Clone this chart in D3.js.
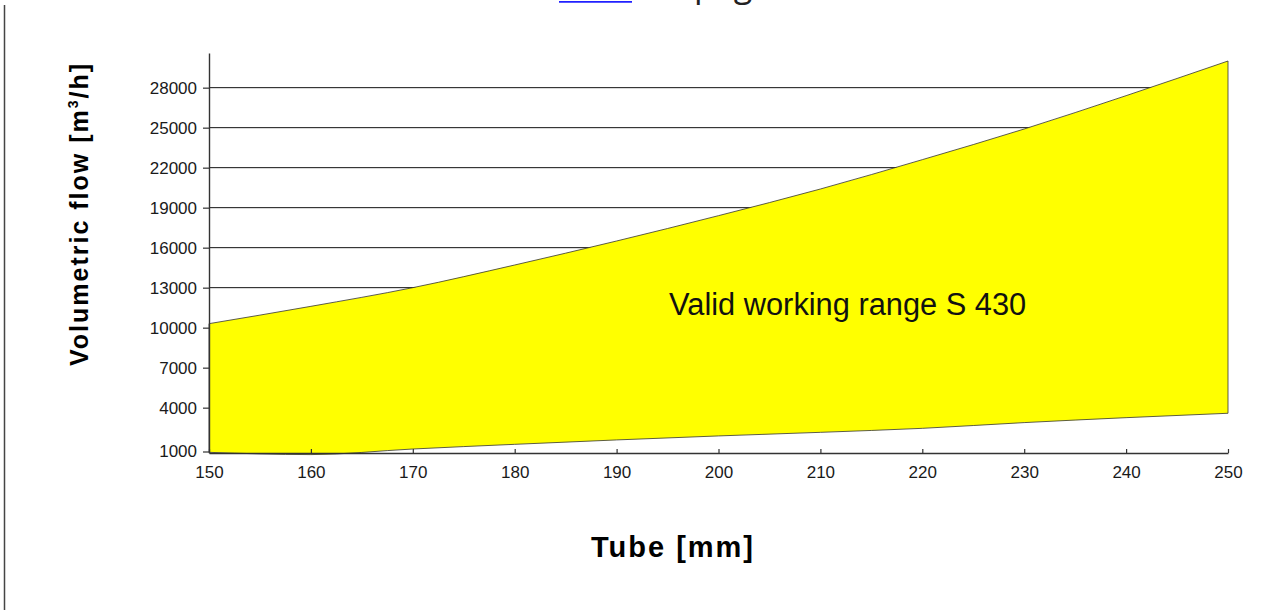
<!DOCTYPE html>
<html>
<head>
<meta charset="utf-8">
<script src="https://cdn.jsdelivr.net/npm/d3@7"></script>
<style>
  body { margin: 0; background: #fff; }
  svg { display: block; font-family: "Liberation Sans", Arial, sans-serif; }
</style>
</head>
<body>
<div id="chart"></div>
<script>
// working range of the S 430
var tubes   = [150, 160, 170, 180, 190, 200, 210, 220, 230, 240, 250];
var maxFlow = [10300, 11600, 13000, 14700, 16500, 18400, 20400, 22600, 24900, 27400, 30000];
var minFlow = [650, 480, 900, 1250, 1580, 1880, 2150, 2450, 2880, 3250, 3580];

var xTicks = [150, 160, 170, 180, 190, 200, 210, 220, 230, 240, 250];
var yTicks = [1000, 4000, 7000, 10000, 13000, 16000, 19000, 22000, 25000, 28000];

var width = 1273;
var height = 610;
var margin = { top: 53, right: 45, bottom: 157, left: 209 };

var svg = d3.select('#chart').append('svg')
    .attr('width', width)
    .attr('height', height);

// page frame on the left
svg.append('line')
    .attr('x1', 4.5).attr('x2', 4.5)
    .attr('y1', 5).attr('y2', height)
    .attr('stroke', '#444').attr('stroke-width', 1.5);

// bits of the page text cut off at the top
svg.append('text')
    .attr('x', 559).attr('y', -3.5)
    .attr('fill', '#2020ff')
    .style('font-family', '"Open Sans", sans-serif')
    .style('font-size', '34px')
    .text('Back');
svg.append('line')
    .attr('x1', 559).attr('x2', 632)
    .attr('y1', 1.8).attr('y2', 1.8)
    .attr('stroke', '#2020ff').attr('stroke-width', 1.8);
svg.append('text')
    .attr('x', 694).attr('y', -3.5)
    .attr('fill', '#222')
    .style('font-family', '"Open Sans", sans-serif')
    .style('font-size', '34px')
    .text('page');

var x = d3.scaleLinear()
    .domain([150, 250])
    .range([margin.left, width - margin.right]);

var y = d3.scaleLinear()
    .domain([600, 30600])
    .range([height - margin.bottom, margin.top]);

var data = tubes.map(function (t, i) {
    return { tube: t, lo: minFlow[i], hi: maxFlow[i] };
});

// gridlines (hidden behind the yellow area where they cross it)
svg.append('g')
    .selectAll('line')
    .data(yTicks.slice(1))
    .enter().append('line')
    .attr('x1', x(150)).attr('x2', x(250))
    .attr('y1', function (d) { return y(d); })
    .attr('y2', function (d) { return y(d); })
    .attr('stroke', '#111').attr('stroke-width', 1);

var area = d3.area()
    .x(function (d) { return x(d.tube); })
    .y0(function (d) { return y(d.lo); })
    .y1(function (d) { return y(d.hi); })
    .curve(d3.curveMonotoneX);

svg.append('path')
    .datum(data)
    .attr('d', area)
    .attr('fill', '#ffff00')
    .attr('stroke', '#333')
    .attr('stroke-width', 0.8);

// axes
var xAxis = svg.append('g')
    .attr('transform', 'translate(0,' + y(600) + ')')
    .call(d3.axisBottom(x).tickValues(xTicks).tickFormat(d3.format('d'))
        .tickSizeInner(-4).tickSizeOuter(0).tickPadding(13));

var yAxis = svg.append('g')
    .attr('transform', 'translate(' + x(150) + ',0)')
    .call(d3.axisLeft(y).tickValues(yTicks).tickFormat(d3.format('d'))
        .tickSizeInner(6).tickSizeOuter(0).tickPadding(6));

[xAxis, yAxis].forEach(function (g) {
    g.select('.domain').attr('stroke', '#333').attr('stroke-width', 1.4);
    g.selectAll('.tick line').attr('stroke', '#333').attr('stroke-width', 1.2);
    g.selectAll('.tick text')
        .attr('fill', '#1a1a1a')
        .style('font-family', '"Liberation Sans", Arial, sans-serif')
        .style('font-size', '17px');
});

// lowest label sits on the axis line in the original
yAxis.selectAll('.tick')
    .filter(function (d) { return d === 1000; })
    .attr('transform', 'translate(0,' + (y(600) - 1) + ')');

// axis titles
svg.append('text')
    .attr('x', 673).attr('y', 557)
    .attr('text-anchor', 'middle')
    .style('font-size', '29px')
    .style('font-weight', 'bold')
    .style('letter-spacing', '2px')
    .text('Tube [mm]');

var yTitle = svg.append('text')
    .attr('transform', 'translate(88,214) rotate(-90)')
    .attr('text-anchor', 'middle')
    .style('font-size', '25px')
    .style('font-weight', 'bold')
    .style('letter-spacing', '2px');
yTitle.append('tspan').text('Volumetric flow [m');
yTitle.append('tspan').attr('dy', -10).style('font-size', '14px').text('3');
yTitle.append('tspan').attr('dy', 10).text('/h]');

// label inside the working range
svg.append('text')
    .attr('x', 669).attr('y', 315)
    .style('font-size', '30.8px')
    .attr('fill', '#111')
    .text('Valid working range S 430');
</script>
</body>
</html>
